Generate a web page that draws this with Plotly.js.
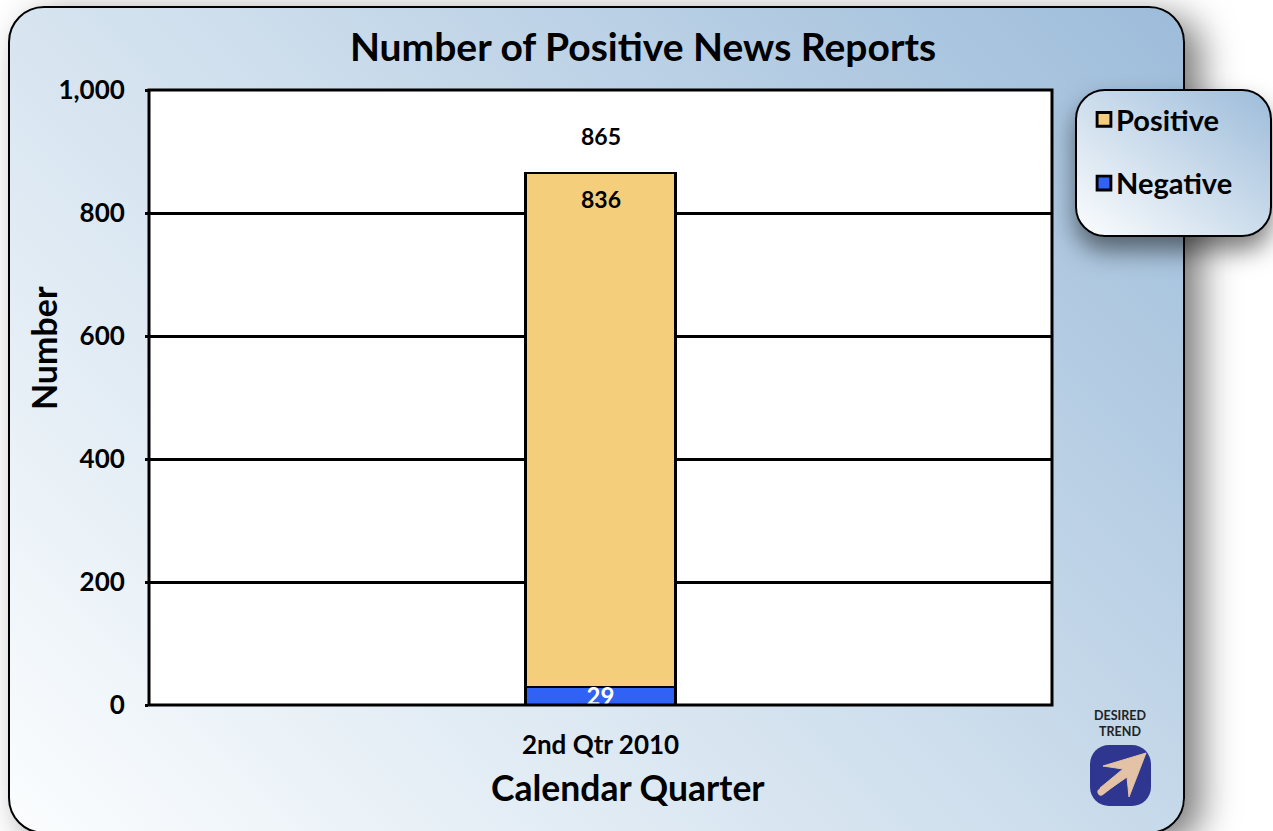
<!DOCTYPE html>
<html>
<head>
<meta charset="utf-8">
<script src="https://cdn.plot.ly/plotly-3.0.1.min.js"></script>
<style>
html,body{margin:0;padding:0;width:1273px;height:831px;overflow:hidden;background:#fff}
.panel{position:absolute;box-sizing:border-box;border:2.5px solid #000}
#main{left:8px;top:6px;width:1177px;height:828px;border-radius:36px;box-shadow:16px 10px 36px rgba(0,0,0,.52);background:linear-gradient(45deg,#fbfdfe 0%,#cfdfed 50%,#9dbcda 100%)}
#leg{left:1075px;top:89px;width:197px;height:148px;border-radius:30px;box-shadow:0 14px 24px rgba(0,0,0,.5);background:linear-gradient(to top right,#fbfdfe 0%,#9dbcda 100%)}
#icon{position:absolute;left:1089px;top:744px}
#chart{position:absolute;left:0;top:0;width:1273px;height:831px}
</style>
</head>
<body>
<div class="panel" id="main"></div>
<div class="panel" id="leg"></div>
<svg id="icon" width="64" height="64" viewBox="0 0 64 64">
  <rect x="1" y="1" width="61" height="61" rx="19" fill="#2e3690"/>
  <path d="M57 9 L14 22 L34 25 L11 44 L15 49 L38 33 L40 53 Z" fill="#e3c2a6" stroke="#e3c2a6" stroke-width="1" stroke-linejoin="round"/>
  <line x1="12" y1="48" x2="36" y2="29" stroke="#e3c2a6" stroke-width="7" stroke-linecap="round"/>
</svg>
<div id="chart"></div>
<script>
const categories = ['2nd Qtr 2010'];
const negativeValues = [29];
const positiveValues = [836];
const totalValues = [865];
const tickValues = [0, 200, 400, 600, 800, 1000];
const tickLabels = ['0', '200', '400', '600', '800', '1,000'];
const FONT = 'Lato, "Open Sans", sans-serif';
const L = 149, R = 1052, T = 90, B = 705;
const paperX = px => (px - L) / (R - L);
const paperY = py => (B - py) / (B - T);

const traces = [
  {type:'bar', name:'Negative', x:categories, y:negativeValues, width:0.166, legendrank:2,
   legendgroup:'n', marker:{color:'#2f62f5', line:{color:'#000', width:2.5}}, hoverinfo:'name+y'},
  {type:'bar', name:'Positive', x:categories, y:positiveValues, width:0.166, legendrank:1,
   legendgroup:'p', marker:{color:'#f5ce7b', line:{color:'#000', width:2.5}}, hoverinfo:'name+y'},
  {type:'scatter', mode:'text', x:categories, y:negativeValues, text:negativeValues.map(String),
   textposition:'bottom center', cliponaxis:true, showlegend:false, hoverinfo:'skip',
   textfont:{family:FONT, size:24, weight:700, color:'#fff'}}
];

const layout = {
  width:1273, height:831, barmode:'stack', showlegend:true,
  paper_bgcolor:'rgba(0,0,0,0)', plot_bgcolor:'#fff',
  margin:{l:L, r:1273-R, t:T, b:831-B, pad:0},
  font:{family:FONT, color:'#000'},
  title:{text:'Number of Positive News Reports', font:{family:FONT, size:39, weight:700, color:'#000'},
         x:643/1273, xanchor:'center', xref:'container', y:1-47/831, yanchor:'middle', yref:'container'},
  xaxis:{type:'category', range:[-0.5,0.5], showgrid:false, zeroline:false, showline:false,
         ticks:'', ticklabelstandoff:22, tickfont:{family:FONT, size:26, weight:700, color:'#000'}, automargin:false},
  yaxis:{range:[0,1000], tickvals:tickValues, ticktext:tickLabels, showgrid:true, gridcolor:'#000', gridwidth:2.5,
         zeroline:false, showline:false, ticks:'outside', ticklen:3, tickwidth:2.5, tickcolor:'#000',
         ticklabelstandoff:15, tickfont:{family:FONT, size:26, weight:700, color:'#000'}, automargin:false},
  shapes:[{type:'rect', xref:'paper', yref:'paper', x0:0, x1:1, y0:0, y1:1, line:{color:'#000', width:3}, fillcolor:'rgba(0,0,0,0)', layer:'above'}],
  legend:{x:1076/1273, xref:'container', y:1-94/831, yref:'container', xanchor:'left', yanchor:'top',
          bgcolor:'rgba(0,0,0,0)', borderwidth:0, traceorder:'grouped', tracegroupgap:23,
          font:{family:FONT, size:29, weight:700, color:'#000'}, itemclick:false, itemdoubleclick:false},
  annotations:[
    {x:categories[0], y:totalValues[0], xref:'x', yref:'y', text:String(totalValues[0]), showarrow:false, yshift:37,
     font:{family:FONT, size:23, weight:700, color:'#000'}},
    {x:categories[0], y:totalValues[0], xref:'x', yref:'y', text:String(positiveValues[0]), showarrow:false, yshift:-26,
     font:{family:FONT, size:23, weight:700, color:'#000'}},
    {x:paperX(1120), y:paperY(723), xref:'paper', yref:'paper', text:'DESIRED<br>TREND', showarrow:false,
     xanchor:'center', yanchor:'middle', align:'center', font:{family:FONT, size:12.5, weight:700, color:'#222'}},
    {x:paperX(628), y:paperY(787), xref:'paper', yref:'paper', text:'Calendar Quarter', showarrow:false,
     xanchor:'center', yanchor:'middle', font:{family:FONT, size:35.5, weight:700, color:'#000'}},
    {x:paperX(43), y:paperY(348), xref:'paper', yref:'paper', text:'Number', showarrow:false, textangle:-90,
     xanchor:'center', yanchor:'middle', font:{family:FONT, size:34, weight:700, color:'#000'}}
  ]
};
Plotly.newPlot('chart', traces, layout, {displayModeBar:false, responsive:false}).then(gd => {
  gd.querySelectorAll('.legend .legendpoints').forEach(p => p.setAttribute('transform', 'translate(5,0) scale(1.15)'));
});
</script>
</body>
</html>
